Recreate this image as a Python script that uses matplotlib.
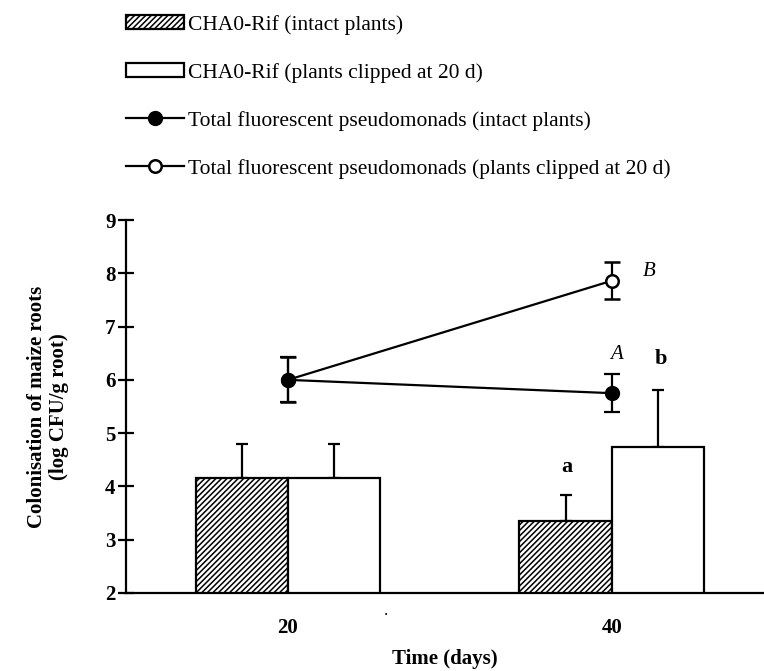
import numpy as np
import matplotlib
matplotlib.use('Agg')
from matplotlib import pyplot as plt
from matplotlib.patches import Patch
from matplotlib.lines import Line2D

plt.rcParams['font.family'] = ['Liberation Serif', 'DejaVu Serif']
plt.rcParams['hatch.linewidth'] = 1.1

# data
days = [20, 40]
rif_intact = [4.16, 3.35]
rif_intact_err = [0.64, 0.48]
rif_clipped = [4.16, 4.74]
rif_clipped_err = [0.64, 1.07]
pseudo_intact = [6.0, 5.75]
pseudo_intact_err = [0.42, 0.36]
pseudo_clipped = [6.0, 7.86]
pseudo_clipped_err = [0.42, 0.35]
labels = ['CHA0-Rif (intact plants)',
          'CHA0-Rif (plants clipped at 20 d)',
          'Total fluorescent pseudomonads (intact plants)',
          'Total fluorescent pseudomonads (plants clipped at 20 d)']

fig = plt.figure(figsize=(7.64, 6.71), dpi=100)
ax = fig.add_axes([126/764, 78/671, 638/764, 373/671])

w = 5.7
x = np.array(days, dtype=float)
ax.bar(x - w/2, rif_intact, width=w, color='white', edgecolor='black',
       hatch='//////', linewidth=1.6, zorder=2)
ax.bar(x + w/2, rif_clipped, width=w, color='white', edgecolor='black',
       linewidth=1.6, zorder=2)
ax.errorbar(x - w/2, rif_intact, yerr=[np.zeros(2), rif_intact_err], fmt='none',
            ecolor='black', elinewidth=1.6, capsize=4, capthick=1.6, zorder=1)
ax.errorbar(x + w/2, rif_clipped, yerr=[np.zeros(2), rif_clipped_err], fmt='none',
            ecolor='black', elinewidth=1.6, capsize=4, capthick=1.6, zorder=1)

ax.errorbar(x, pseudo_clipped, yerr=pseudo_clipped_err, fmt='-o', color='black',
            mfc='white', mec='black', mew=1.8, ms=9, lw=1.6, capsize=6,
            capthick=1.6, elinewidth=1.6, zorder=3)
ax.errorbar(x, pseudo_intact, yerr=pseudo_intact_err, fmt='-o', color='black',
            mfc='black', mec='black', ms=10, lw=1.6, capsize=6,
            capthick=1.6, elinewidth=1.6, zorder=4)

ax.text(42.3, 8.04, 'B', style='italic', fontsize=15, ha='center', va='center')
ax.text(40.3, 6.48, 'A', style='italic', fontsize=15, ha='center', va='center')
ax.text(43.0, 6.39, 'b', weight='bold', fontsize=16, ha='center', va='center')
ax.text(37.24, 4.36, 'a', weight='bold', fontsize=16, ha='center', va='center')

ax.set_xlim(10, 49.4)
ax.set_ylim(2, 9)
ax.set_yticks(range(2, 10))
ax.set_xticks(days)
ax.set_xticklabels(['20', '40'])
for s in ['top', 'right']:
    ax.spines[s].set_visible(False)
for s in ['left', 'bottom']:
    ax.spines[s].set_linewidth(1.6)
ax.tick_params(axis='y', direction='inout', length=11, width=1.6, labelsize=15, pad=2)
ax.tick_params(axis='x', length=0, labelsize=15, pad=18)
for t in ax.get_xticklabels() + ax.get_yticklabels():
    t.set_fontweight('bold')

ax.set_xlabel('Time (days)', fontsize=15, fontweight='bold', labelpad=8)
ax.set_ylabel('Colonisation of maize roots\n(log CFU/g root)', fontsize=15,
              fontweight='bold', labelpad=26, linespacing=1.15)

fig.text(386/764, 1 - 611/671, '.', fontsize=12, ha='center', va='center')

handles = [Patch(facecolor='white', edgecolor='black', hatch='//////', linewidth=1.6),
           Patch(facecolor='white', edgecolor='black', linewidth=1.6),
           Line2D([], [], color='black', lw=1.6, marker='o', mfc='black', ms=10),
           Line2D([], [], color='black', lw=1.6, marker='o', mfc='white', mew=1.8, ms=9)]
fig.legend(handles, labels, loc='upper left', bbox_to_anchor=(126/764, 1 - 15/671),
           frameon=False, fontsize=15.5, handlelength=2.7, handleheight=0.6,
           handletextpad=0.2, labelspacing=1.3, borderpad=0, borderaxespad=0)

fig.savefig('out.png', dpi=100)
